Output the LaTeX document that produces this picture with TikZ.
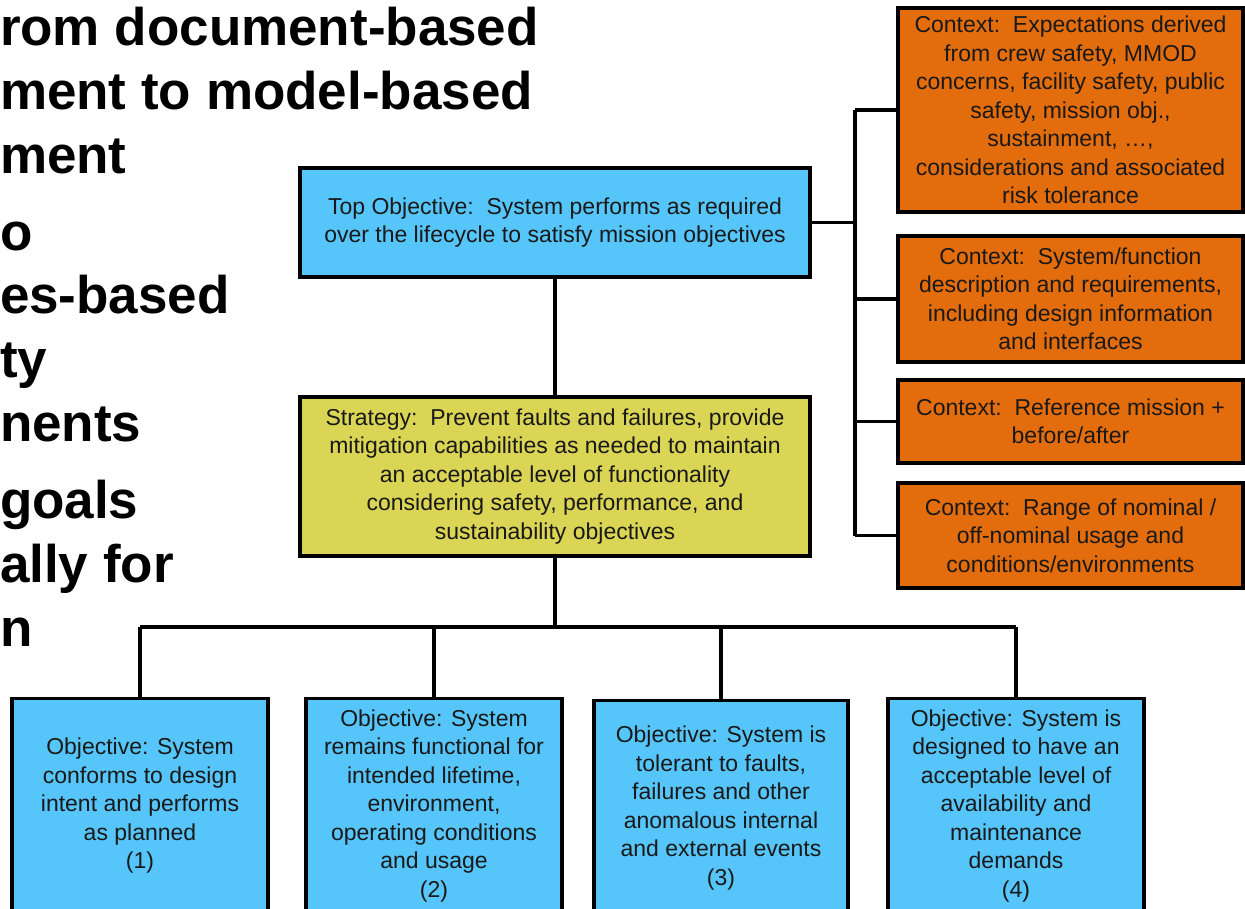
\documentclass[tikz,border=0pt]{standalone}
\usepackage{fontspec}
\setmainfont{Liberation Sans}
\begin{document}
\begin{tikzpicture}[x=1pt,y=-1pt,
  every node/.style={inner sep=0pt, outer sep=0pt},
  box/.style={draw=black, line width=3.5pt, align=center, text=black!90,
    font=\fontsize{23}{28.5}\selectfont},
  bluebox/.style={box, fill=skyblue},
  stratbox/.style={box, fill=stratyellow},
  ctxbox/.style={box, fill=ctxorange, minimum width=345pt},
  objbox/.style={bluebox, minimum width=256pt, minimum height=215pt},
  link/.style={draw=black, line width=3.5pt},
  slide/.style={anchor=base west, font=\fontsize{53}{64}\selectfont\bfseries}
]
\definecolor{skyblue}{RGB}{86,197,250}
\definecolor{stratyellow}{RGB}{218,213,84}
\definecolor{ctxorange}{RGB}{227,108,12}

\useasboundingbox (0,0) rectangle (1245,908);
\clip (0,0) rectangle (1245,908);

% slide bullet text on the left
\node[slide] (t1) at (0,45) {rom document-based};
\node[slide] (t2) at (0,109) {ment to model-based};
\node[slide] (t3) at (0,173) {ment};
\node[slide] (t4) at (0,250) {o};
\node[slide] (t5) at (0,313) {es-based};
\node[slide] (t6) at (0,377) {ty};
\node[slide] (t7) at (0,441) {nents};
\node[slide] (t8) at (0,518) {goals};
\node[slide] (t9) at (0,582) {ally for};
\node[slide] (t10) at (0,646) {n};

% top objective and strategy
\node[bluebox, minimum width=510pt, minimum height=109pt] (top) at (555,222.5)
  {Top Objective:\ \ System performs as required\\over the lifecycle to satisfy mission objectives};
\node[stratbox, minimum width=510pt, minimum height=159pt] (strat) at (555,476.5)
  {Strategy:\ \ Prevent faults and failures, provide\\mitigation capabilities as needed to maintain\\an acceptable level of functionality\\considering safety, performance, and\\sustainability objectives};

% context boxes
\node[ctxbox, minimum height=204pt] (c1) at (1070.5,110)
  {Context:\ \ Expectations derived\\from crew safety, MMOD\\concerns, facility safety, public\\safety, mission obj.,\\sustainment, …,\\considerations and associated\\risk tolerance};
\node[ctxbox, minimum height=126pt] (c2) at (1070.5,299)
  {Context:\ \ System/function\\description and requirements,\\including design information\\and interfaces};
\node[ctxbox, minimum height=83pt] (c3) at (1070.5,421.5)
  {Context:\ \ Reference mission +\\before/after};
\node[ctxbox, minimum height=105pt] (c4) at (1070.5,535.5)
  {Context:\ \ Range of nominal /\\off-nominal usage and\\conditions/environments};

% sub-objectives
\node[objbox] (b1) at (140,806)
  {Objective: System\\conforms to design\\intent and performs\\as planned\\(1)};
\node[objbox] (b2) at (434,806)
  {Objective: System\\remains functional for\\intended lifetime,\\environment,\\operating conditions\\and usage\\(2)};
\node[objbox, minimum width=254pt] (b3) at (721,808)
  {Objective: System is\\tolerant to faults,\\failures and other\\anomalous internal\\and external events\\(3)};
\node[objbox] (b4) at (1016,806)
  {Objective: System is\\designed to have an\\acceptable level of\\availability and\\maintenance\\demands\\(4)};

% connector rails
\coordinate (bus) at (855,0);
\coordinate (bar) at (0,627);

\draw[link] (top) -- (strat);
\draw[link] (top.east) -- (top.east -| bus);
\draw[link] (c1.west -| bus) -- (c4.west -| bus);
\foreach \c in {c1,c2,c3,c4}
  \draw[link] (\c.west -| bus) -- (\c.west);

\draw[link] (strat.south) -- (strat.south |- bar);
\draw[link] (b1.north |- bar) -- (b4.north |- bar);
\foreach \b in {b1,b2,b3,b4}
  \draw[link] (\b.north |- bar) -- (\b.north);
\end{tikzpicture}
\end{document}
